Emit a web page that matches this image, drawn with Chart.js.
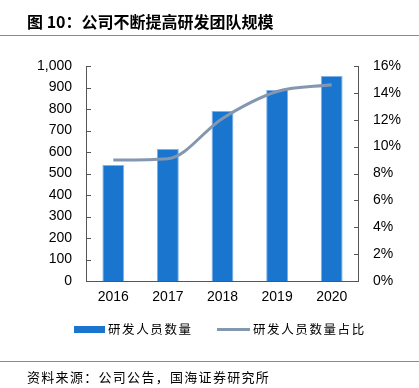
<!DOCTYPE html>
<html>
<head>
<meta charset="utf-8">
<script src="https://cdn.jsdelivr.net/npm/chart.js@4"></script>
<style>
    body { margin: 0; background: #fff; }
    .wrap { position: relative; width: 419px; height: 388px; overflow: hidden; font-family: "Noto Sans CJK SC", sans-serif; }
    canvas { position: absolute; left: 0; top: 0; }
    .title { position: absolute; left: 27px; top: 9px; font-size: 16px; font-weight: bold; color: #000; white-space: nowrap; }
    .rule { position: absolute; left: 0; width: 419px; height: 0; border-top: 1.5px solid #8a8a8a; }
    .legend { position: absolute; top: 319px; font-size: 12.5px; letter-spacing: 1.6px; color: #000; white-space: nowrap; }
    .source { position: absolute; left: 27px; top: 367px; font-size: 13px; letter-spacing: 1.3px; color: #000; white-space: nowrap; }
</style>
</head>
<body>
<div class="wrap">
    <canvas id="chart" width="419" height="388"></canvas>
    <div class="title">图 10：公司不断提高研发团队规模</div>
    <div class="rule" style="top:35px"></div>
    <div class="legend" id="legend"></div>
    <div class="rule" style="top:361px"></div>
    <div class="source">资料来源：公司公告，国海证券研究所</div>
</div>
<script>
// Datos del gráfico
const years = ['2016', '2017', '2018', '2019', '2020'];
const staffCount = [540, 614, 791, 888, 953];
const staffShare = [9.0, 9.1, 12.1, 14.1, 14.6];
const leftTicks = [0, 100, 200, 300, 400, 500, 600, 700, 800, 900, 1000];
const rightTicks = [0, 2, 4, 6, 8, 10, 12, 14, 16];

const barColor = '#1a75cf';
const lineColor = '#8497b0';
const axisColor = '#555';
const tickFont = { family: '"Liberation Sans", Arial, sans-serif', size: 14 };

// Ejes con marcas hacia dentro
const innerAxes = {
    id: 'innerAxes',
    afterDraw(chart) {
        const ctx = chart.ctx;
        const area = chart.chartArea;
        const y = chart.scales.y;
        const y1 = chart.scales.y1;
        ctx.save();
        ctx.strokeStyle = axisColor;
        ctx.lineWidth = 1;
        ctx.beginPath();
        ctx.moveTo(area.left + 0.5, area.top);
        ctx.lineTo(area.left + 0.5, area.bottom + 0.5);
        ctx.lineTo(area.right - 0.5, area.bottom + 0.5);
        ctx.lineTo(area.right - 0.5, area.top);
        leftTicks.forEach(v => {
            const p = Math.round(y.getPixelForValue(v)) + 0.5;
            ctx.moveTo(area.left, p);
            ctx.lineTo(area.left + 5, p);
        });
        rightTicks.forEach(v => {
            const p = Math.round(y1.getPixelForValue(v)) + 0.5;
            ctx.moveTo(area.right, p);
            ctx.lineTo(area.right - 5, p);
        });
        ctx.stroke();
        ctx.restore();
    }
};

new Chart(document.getElementById('chart'), {
    data: {
        labels: years,
        datasets: [{
            type: 'line',
            label: '研发人员数量占比',
            data: staffShare,
            yAxisID: 'y1',
            borderColor: lineColor,
            borderWidth: 3,
            pointRadius: 0,
            cubicInterpolationMode: 'monotone',
            order: 0
        }, {
            type: 'bar',
            label: '研发人员数量',
            data: staffCount,
            yAxisID: 'y',
            backgroundColor: barColor,
            borderColor: '#7fb2e6',
            borderWidth: { left: 1, right: 1, top: 1, bottom: 0 },
            barPercentage: 0.4,
            categoryPercentage: 1,
            order: 1
        }]
    },
    options: {
        responsive: false,
        animation: false,
        layout: { padding: { top: 66, left: 0, right: 0, bottom: 0 } },
        plugins: { legend: { display: false }, tooltip: { enabled: false } },
        scales: {
            x: {
                grid: { display: false, drawTicks: false },
                border: { display: false },
                ticks: { color: '#000', font: tickFont, padding: 8 },
                afterFit(s) { s.height = 107; }
            },
            y: {
                position: 'left',
                min: 0, max: 1000,
                afterBuildTicks(s) { s.ticks = leftTicks.map(v => ({ value: v })); },
                grid: { display: false, drawTicks: false },
                border: { display: false },
                ticks: {
                    color: '#000', font: tickFont, padding: 14,
                    callback: v => v.toLocaleString('en-US')
                },
                afterFit(s) { s.width = 86; }
            },
            y1: {
                position: 'right',
                min: 0, max: 16,
                afterBuildTicks(s) { s.ticks = rightTicks.map(v => ({ value: v })); },
                grid: { display: false, drawTicks: false },
                border: { display: false },
                ticks: {
                    color: '#000', font: tickFont, padding: 14,
                    callback: v => v + '%'
                },
                afterFit(s) { s.width = 60; }
            }
        }
    },
    plugins: [innerAxes]
});

// Leyenda personalizada
const legend = document.getElementById('legend');
legend.innerHTML =
    '<span style="position:absolute;left:74px;top:7px;width:31px;height:7px;background:' + barColor + '"></span>' +
    '<span style="position:absolute;left:108px;top:0">研发人员数量</span>' +
    '<span style="position:absolute;left:217px;top:9px;width:33px;height:3px;background:' + lineColor + '"></span>' +
    '<span style="position:absolute;left:253px;top:0">研发人员数量占比</span>';
legend.style.left = '0px';
</script>
</body>
</html>
